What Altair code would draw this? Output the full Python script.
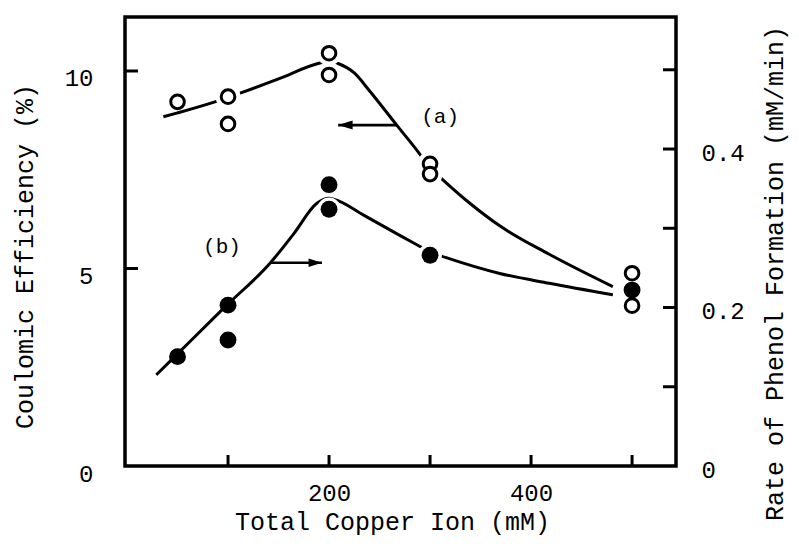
import altair as alt
import pandas as pd

# ---- data ----
# (a) Coulomic efficiency (%), open circles
open_x = [50, 100, 100, 200, 200, 300, 300, 500, 500]
open_eff = [9.22, 9.35, 8.66, 10.45, 9.90, 7.65, 7.39, 4.88, 4.06]
open_gap = [False, True, False, True, True, True, True, False, False]

# (b) Rate of phenol formation (mM/min), filled circles
filled_x = [50, 100, 100, 200, 200, 300, 500]
filled_rate = [0.138, 0.203, 0.159, 0.355, 0.324, 0.266, 0.222]
filled_gap = [False, False, False, False, True, True, False]

# hand-drawn curves
curve_a_x = [36, 50, 87, 100, 112, 150, 189, 200, 209, 225, 240, 267, 288, 300, 313, 340, 369, 418, 481]
curve_a_y = [8.84, 8.94, 9.22, 9.33, 9.44, 9.80, 10.19, 10.25, 10.19, 9.95, 9.50, 8.63, 7.96, 7.55, 7.24, 6.64, 6.08, 5.36, 4.54]
curve_b_x = [29, 48, 98, 142, 165, 188, 200, 211, 231, 270, 290, 300, 316, 369, 418, 481]
curve_b_y = [0.115, 0.139, 0.202, 0.2565, 0.293, 0.3315, 0.338, 0.3335, 0.319, 0.291, 0.277, 0.270, 0.263, 0.243, 0.2305, 0.216]

# annotations
arrow_a = {"x": 267, "x2": 209, "y": 8.63, "label": "(a)", "lx": 310, "ly": 8.84}
arrow_b = {"x": 142, "x2": 193, "y": 0.2565, "label": "(b)", "lx": 94, "ly": 5.55}

x_ticks = [100, 200, 300, 400, 500]
x_labels = [200, 400]
left_ticks = [5, 10]
left_labels = [0, 5, 10]
right_ticks = [0.1, 0.2, 0.3, 0.4, 0.5]
right_labels = [0, 0.2, 0.4]

W, H = 551, 449
FONT = "Liberation Mono"

df_open = pd.DataFrame({"x": open_x, "eff": open_eff, "gap": open_gap})
df_filled = pd.DataFrame({"x": filled_x, "rate": filled_rate, "gap": filled_gap})
df_ca = pd.DataFrame({"x": curve_a_x, "eff": curve_a_y})
df_cb = pd.DataFrame({"x": curve_b_x, "rate": curve_b_y})
df_xt = pd.DataFrame({"x": x_ticks})
df_lt = pd.DataFrame({"eff": left_ticks})
df_rt = pd.DataFrame({"rate": right_ticks})
df_aa = pd.DataFrame([arrow_a])
df_ab = pd.DataFrame([arrow_b])

xs = alt.Scale(domain=[-2, 543.5], nice=False, zero=False)
ys_eff = alt.Scale(domain=[0, 11.367], nice=False, zero=False)
ys_rate = alt.Scale(domain=[0, 0.5666], nice=False, zero=False)

x_axis = alt.Axis(
    values=x_labels, format="d", domain=False, ticks=False, tickSize=0, grid=False,
    labelPadding=15, labelFont=FONT, labelFontSize=24, labelColor="black",
    title="Total Copper Ion (mM)", titleFont=FONT, titleFontSize=25,
    titleFontWeight="normal", titleColor="black", titleX=267, titleY=63,
    titleBaseline="alphabetic", titleAlign="center",
)
left_axis = alt.Axis(
    orient="left", values=left_labels, format="d", domain=False, ticks=False,
    tickSize=0, grid=False, labelPadding=32, labelOffset=8, labelFont=FONT,
    labelFontSize=24, labelColor="black", title="Coulomic Efficiency (%)",
    titleFont=FONT, titleFontSize=25, titleFontWeight="normal", titleColor="black",
    titleAngle=270, titleX=-101, titleY=239, titleBaseline="middle", titleAlign="center",
)
right_axis = alt.Axis(
    orient="right", values=right_labels, format=".1~f", domain=False, ticks=False,
    tickSize=0, grid=False, labelPadding=25, labelOffset=4, labelFont=FONT,
    labelFontSize=24, labelColor="black", title="Rate of Phenol Formation (mM/min)",
    titleFont=FONT, titleFontSize=25, titleFontWeight="normal", titleColor="black",
    titleAngle=270, titleX=106, titleY=256, titleBaseline="alphabetic", titleAlign="center",
)

X = alt.X("x:Q", scale=xs, axis=x_axis)

line_a = alt.Chart(df_ca).mark_line(color="black", strokeWidth=3, interpolate="monotone").encode(
    x=X, y=alt.Y("eff:Q", scale=ys_eff, axis=None))
line_b = alt.Chart(df_cb).mark_line(color="black", strokeWidth=3, interpolate="monotone").encode(
    x=X, y=alt.Y("rate:Q", scale=ys_rate, axis=None))

halo_a = alt.Chart(df_open).transform_filter("datum.gap").mark_point(
    shape="circle", filled=True, color="white", opacity=1, size=620).encode(
    x=X, y=alt.Y("eff:Q", scale=ys_eff, axis=None))
halo_b = alt.Chart(df_filled).transform_filter("datum.gap").mark_point(
    shape="circle", filled=True, color="white", opacity=1, size=560).encode(
    x=X, y=alt.Y("rate:Q", scale=ys_rate, axis=None))

pts_a = alt.Chart(df_open).mark_point(
    shape="circle", filled=True, fill="white", stroke="black", strokeWidth=3,
    opacity=1, size=186).encode(
    x=X, y=alt.Y("eff:Q", scale=ys_eff, axis=left_axis))
pts_b = alt.Chart(df_filled).mark_point(
    shape="circle", filled=True, color="black", opacity=1, size=285).encode(
    x=X, y=alt.Y("rate:Q", scale=ys_rate, axis=right_axis))

tick_x = alt.Chart(df_xt).mark_rule(color="black", strokeWidth=3).encode(
    x=X, y=alt.value(H), y2=alt.value(H - 11))
tick_l = alt.Chart(df_lt).mark_rule(color="black", strokeWidth=3).encode(
    y=alt.Y("eff:Q", scale=ys_eff, axis=None), x=alt.value(0), x2=alt.value(13))
tick_r = alt.Chart(df_rt).mark_rule(color="black", strokeWidth=3).encode(
    y=alt.Y("rate:Q", scale=ys_rate, axis=None), x=alt.value(W), x2=alt.value(W - 13))

HEAD_LEFT = "M0,0L2,-0.62L2,0.62Z"
HEAD_RIGHT = "M0,0L-2,-0.62L-2,0.62Z"

arr_a = alt.Chart(df_aa).mark_rule(color="black", strokeWidth=2.6).encode(
    x=X, x2="x2:Q", y=alt.Y("y:Q", scale=ys_eff, axis=None))
head_a = alt.Chart(df_aa).mark_point(shape=HEAD_LEFT, filled=True, color="black",
                                     opacity=1, size=210).encode(
    x=alt.X("x2:Q", scale=xs, axis=x_axis), y=alt.Y("y:Q", scale=ys_eff, axis=None))
txt_a = alt.Chart(df_aa).mark_text(font=FONT, fontSize=21, color="black").encode(
    x=alt.X("lx:Q", scale=xs, axis=x_axis), y=alt.Y("ly:Q", scale=ys_eff, axis=None),
    text="label:N")

arr_b = alt.Chart(df_ab).mark_rule(color="black", strokeWidth=2.6).encode(
    x=X, x2="x2:Q", y=alt.Y("y:Q", scale=ys_rate, axis=None))
head_b = alt.Chart(df_ab).mark_point(shape=HEAD_RIGHT, filled=True, color="black",
                                     opacity=1, size=180).encode(
    x=alt.X("x2:Q", scale=xs, axis=x_axis), y=alt.Y("y:Q", scale=ys_rate, axis=None))
txt_b = alt.Chart(df_ab).mark_text(font=FONT, fontSize=21, color="black").encode(
    x=alt.X("lx:Q", scale=xs, axis=x_axis), y=alt.Y("ly:Q", scale=ys_eff, axis=None),
    text="label:N")

chart = alt.layer(
    line_a, line_b, halo_a, halo_b, pts_a, pts_b,
    tick_x, tick_l, tick_r, arr_a, head_a, txt_a, arr_b, head_b, txt_b,
).resolve_scale(y="independent").properties(
    width=W, height=H,
    autosize=alt.AutoSizeParams(type="none"),
    padding={"left": 117, "top": 9, "right": 115, "bottom": 72},
    background="white",
).configure_view(stroke="black", strokeWidth=3.5)

chart.save("out.html", embed_options={"renderer": "svg", "actions": False})
